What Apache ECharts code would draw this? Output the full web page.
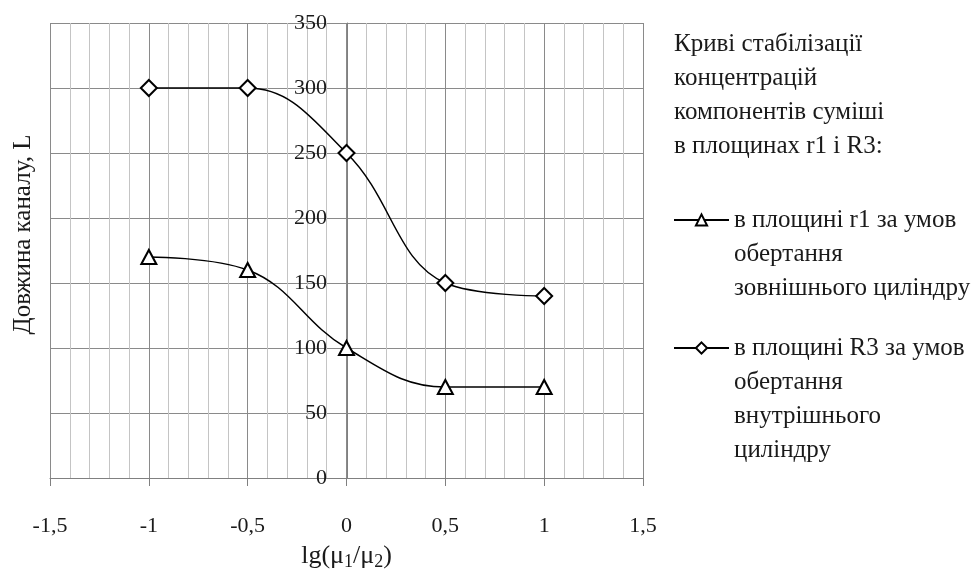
<!DOCTYPE html>
<html>
<head>
<meta charset="utf-8">
<script src="https://cdn.jsdelivr.net/npm/echarts@6/dist/echarts.min.js"></script>
<style>
    html, body { margin: 0; padding: 0; background: #fff; }
    #divChart { width: 980px; height: 569px; }
</style>
</head>
<body>
<div id="divChart"></div>
<script>
var xValues = [-1, -0.5, 0, 0.5, 1];
var outerCyl = [170, 160, 100, 70, 70];     // трикутники
var innerCyl = [300, 300, 250, 150, 140];   // ромби
var nameOuter = 'в площині r1 за умов\nобертання\nзовнішнього циліндру';
var nameInner = 'в площині R3 за умов\nобертання\nвнутрішнього\nциліндру';
var legendTitle = 'Криві стабілізації\nконцентрацій\nкомпонентів суміші\nв площинах r1 і R3:';

var font = '"Liberation Serif", "DejaVu Serif", serif';
var myChart;

function pairs(xs, ys) {
    var res = [];
    for (var i = 0; i < xs.length; i++) {
        res.push([xs[i], ys[i]]);
    }
    return res;
}

// порожні рядки зверху, щоб перший рядок підпису стояв навпроти значка
function padTop(n) {
    return function (name) {
        var s = '';
        for (var i = 0; i < n; i++) s += '\n';
        return s + name;
    };
}

function initChart() {
    myChart = echarts.init(document.getElementById('divChart'));
    var legendText = { fontFamily: font, fontSize: 25, color: '#1a1a1a', lineHeight: 34 };
    var option = {
        animation: false,
        title: {
            text: legendTitle,
            left: 674,
            top: 27,
            padding: 0,
            textStyle: { fontFamily: font, fontSize: 25, fontWeight: 'normal', color: '#1a1a1a', lineHeight: 34 }
        },
        legend: [{
            data: [nameOuter],
            left: 673,
            top: 135,
            padding: 0,
            itemWidth: 55,
            itemHeight: 14,
            formatter: padTop(2),
            textStyle: legendText
        }, {
            data: [nameInner],
            left: 673,
            top: 229,
            padding: 0,
            itemWidth: 55,
            itemHeight: 14,
            formatter: padTop(3),
            textStyle: legendText
        }],
        grid: { left: 50, right: 337, top: 23, bottom: 91, outerBoundsMode: 'none', containLabel: false },
        xAxis: {
            type: 'value',
            min: -1.5,
            max: 1.5,
            interval: 0.5,
            name: 'lg(μ{s|1}/μ{s|2})',
            nameLocation: 'middle',
            nameGap: 63,
            nameTextStyle: {
                fontFamily: font, fontSize: 26, color: '#1a1a1a',
                rich: { s: { fontFamily: font, fontSize: 18, color: '#1a1a1a', padding: [12, 0, 0, 0] } }
            },
            axisLine: { onZero: false, lineStyle: { color: '#808080', width: 1 } },
            axisTick: { show: true, length: 8, lineStyle: { color: '#808080' } },
            axisLabel: {
                margin: 37,
                fontFamily: font, fontSize: 22, color: '#1a1a1a',
                formatter: function (v) { return String(v).replace('.', ','); }
            },
            splitLine: { show: true, lineStyle: { color: '#8a8a8a', width: 1 } },
            minorTick: { show: false, splitNumber: 5 },
            minorSplitLine: { show: true, lineStyle: { color: '#c4c4c4', width: 1 } }
        },
        yAxis: [{
            type: 'value',
            min: 0,
            max: 350,
            interval: 50,
            position: 'left',
            offset: -297,   // вісь проходить через x = 0
            axisLine: { show: true, onZero: false, lineStyle: { color: '#808080', width: 1 } },
            axisTick: { show: false },
            axisLabel: { margin: 20, fontFamily: font, fontSize: 22, color: '#1a1a1a' },
            splitLine: { show: true, lineStyle: { color: '#8a8a8a', width: 1 } }
        }, {
            type: 'value',
            min: 0,
            max: 350,
            position: 'left',
            axisLine: { show: false, onZero: false },
            axisTick: { show: false },
            axisLabel: { show: false },
            splitLine: { show: false },
            name: 'Довжина каналу, L',
            nameLocation: 'middle',
            nameGap: 14,
            nameTextStyle: { fontFamily: font, fontSize: 25, color: '#1a1a1a', padding: [0, 0, 0, 32] }
        }],
        series: [{
            name: nameOuter,
            type: 'line',
            smooth: 0.4,
            data: pairs(xValues, outerCyl),
            symbol: 'triangle',
            symbolSize: [15, 14],
            lineStyle: { color: '#000', width: 1.5 },
            itemStyle: { color: '#fff', borderColor: '#000', borderWidth: 2 }
        }, {
            name: nameInner,
            type: 'line',
            smooth: 0.4,
            data: pairs(xValues, innerCyl),
            symbol: 'diamond',
            symbolSize: 16,
            lineStyle: { color: '#000', width: 1.5 },
            itemStyle: { color: '#fff', borderColor: '#000', borderWidth: 2 }
        }]
    };
    myChart.setOption(option);
}

initChart();
</script>
</body>
</html>
